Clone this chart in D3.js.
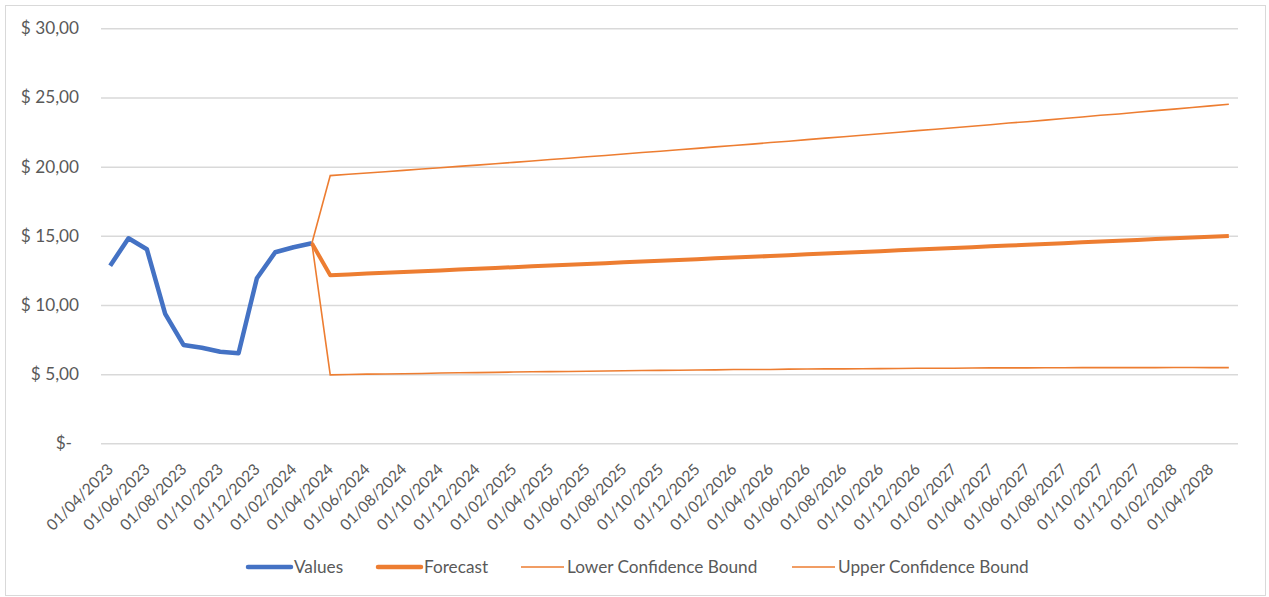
<!DOCTYPE html>
<html>
<head>
<meta charset="utf-8">
<script src="https://cdn.jsdelivr.net/npm/d3@7"></script>
<style>
  body { margin: 0; background: #fff; }
  svg { display: block; font-family: Lato, "Open Sans", sans-serif; }
</style>
</head>
<body>
<svg id="chart" width="1269" height="597"></svg>
<script>
// monthly data, 01/04/2023 .. 01/05/2028
const firstMonth = new Date(2023, 3, 1)
const monthCount = 62

// actuals Apr 2023 .. Mar 2024
const values = [12.84, 14.82, 14.03, 9.35, 7.11, 6.91, 6.62, 6.51, 11.93, 13.81, 14.17, 14.46]

// forecast series start on the last actual (Mar 2024) and run to May 2028
const forecast = [14.46,
  12.15, 12.21, 12.27, 12.32, 12.38, 12.44, 12.50, 12.56, 12.61, 12.67,
  12.73, 12.79, 12.85, 12.90, 12.96, 13.02, 13.08, 13.14, 13.19, 13.25,
  13.31, 13.37, 13.43, 13.48, 13.54, 13.60, 13.66, 13.72, 13.77, 13.83,
  13.89, 13.95, 14.01, 14.06, 14.12, 14.18, 14.24, 14.30, 14.35, 14.41,
  14.47, 14.53, 14.59, 14.64, 14.70, 14.76, 14.82, 14.88, 14.93, 14.99]
const lowerBound = [14.46,
  4.95, 4.97, 5.00, 5.01, 5.03, 5.05, 5.08, 5.10, 5.11, 5.13,
  5.15, 5.17, 5.18, 5.19, 5.21, 5.23, 5.25, 5.26, 5.27, 5.28,
  5.30, 5.31, 5.33, 5.33, 5.34, 5.36, 5.37, 5.38, 5.38, 5.39,
  5.40, 5.41, 5.42, 5.42, 5.43, 5.44, 5.45, 5.45, 5.45, 5.46,
  5.46, 5.47, 5.47, 5.47, 5.47, 5.47, 5.48, 5.48, 5.47, 5.47]
const upperBound = [14.46,
  19.35, 19.45, 19.54, 19.63, 19.73, 19.83, 19.92, 20.02, 20.11, 20.21,
  20.31, 20.41, 20.52, 20.61, 20.71, 20.81, 20.91, 21.02, 21.11, 21.22,
  21.32, 21.43, 21.53, 21.63, 21.74, 21.84, 21.95, 22.06, 22.16, 22.27,
  22.38, 22.49, 22.60, 22.70, 22.81, 22.92, 23.03, 23.15, 23.25, 23.36,
  23.48, 23.59, 23.71, 23.81, 23.93, 24.05, 24.16, 24.28, 24.39, 24.51]

const yTicks = [0, 5, 10, 15, 20, 25, 30]
const xTickLabels = [
  "01/04/2023", "01/06/2023", "01/08/2023", "01/10/2023", "01/12/2023",
  "01/02/2024", "01/04/2024", "01/06/2024", "01/08/2024", "01/10/2024",
  "01/12/2024", "01/02/2025", "01/04/2025", "01/06/2025", "01/08/2025",
  "01/10/2025", "01/12/2025", "01/02/2026", "01/04/2026", "01/06/2026",
  "01/08/2026", "01/10/2026", "01/12/2026", "01/02/2027", "01/04/2027",
  "01/06/2027", "01/08/2027", "01/10/2027", "01/12/2027", "01/02/2028",
  "01/04/2028"]

const seriesNames = ["Values", "Forecast", "Lower Confidence Bound", "Upper Confidence Bound"]

const blue = "#4472c4"
const orange = "#ed7d31"
const textColor = "#595959"
const fontSize = 17.2

const months = d3.timeMonth.range(firstMonth, d3.timeMonth.offset(firstMonth, monthCount))
const fmt = d3.timeFormat("%d/%m/%Y")

const svg = d3.select("#chart")

// chart border
svg.append("rect")
  .attr("x", 5.5).attr("y", 5.5)
  .attr("width", 1260).attr("height", 590)
  .attr("fill", "#fff").attr("stroke", "#d9d9d9").attr("stroke-width", 1)

const plotLeft = 101, plotRight = 1238, plotTop = 28.3, plotBottom = 443.3

const x = d3.scaleBand()
  .domain(months.map(fmt))
  .range([plotLeft, plotRight])
const xc = key => x(key) + x.bandwidth() / 2

const y = d3.scaleLinear().domain([0, 30]).range([plotBottom, plotTop])

// gridlines + y labels
const yAxis = d3.axisLeft(y)
  .tickValues(yTicks)
  .tickSize(-(plotRight - plotLeft))
  .tickPadding(22)
  .tickFormat(d => d === 0 ? "$-" : "$ " + d3.format(".2f")(d).replace(".", ","))

svg.append("g")
  .attr("transform", `translate(${plotLeft},0)`)
  .call(yAxis)
  .call(g => g.select(".domain").remove())
  .call(g => g.selectAll(".tick line").attr("stroke", "#d9d9d9").attr("stroke-width", 1.5))
  .call(g => g.selectAll(".tick text")
    .attr("fill", textColor)
    .attr("font-size", fontSize)
    .attr("font-family", "Lato, sans-serif")
    .attr("dx", d => d === 0 ? -7 : 0))

// x labels, every second month
svg.append("g")
  .selectAll("text")
  .data(xTickLabels)
  .join("text")
  .attr("transform", d => `translate(${xc(d) + 4},${plotBottom + 27}) rotate(-45)`)
  .attr("text-anchor", "end")
  .attr("fill", textColor)
  .attr("font-size", 15.6)
  .text(d => d)

const line = d3.line()
  .x(d => xc(d[0]))
  .y(d => y(d[1]))

const offset = values.length - 1
const pair = arr => arr.map((v, i) => [fmt(months[i + offset]), v])

svg.append("path")
  .datum(values.map((v, i) => [fmt(months[i]), v]))
  .attr("d", line)
  .attr("fill", "none").attr("stroke", blue)
  .attr("stroke-width", 4.5).attr("stroke-linejoin", "round")

svg.append("path")
  .datum(pair(lowerBound))
  .attr("d", line)
  .attr("fill", "none").attr("stroke", orange).attr("stroke-width", 1.6)

svg.append("path")
  .datum(pair(upperBound))
  .attr("d", line)
  .attr("fill", "none").attr("stroke", orange).attr("stroke-width", 1.6)

svg.append("path")
  .datum(pair(forecast))
  .attr("d", line)
  .attr("fill", "none").attr("stroke", orange)
  .attr("stroke-width", 4).attr("stroke-linejoin", "round")

// legend
const legendX = [248, 378, 521, 792]
const legend = svg.append("g")
  .selectAll("g")
  .data(seriesNames)
  .join("g")
  .attr("transform", (d, i) => `translate(${legendX[i]},567)`)

legend.append("line")
  .attr("x1", 0).attr("x2", 43)
  .attr("stroke", (d, i) => i === 0 ? blue : orange)
  .attr("stroke-width", (d, i) => i < 2 ? 4.5 : 1.6)
  .attr("stroke-linecap", (d, i) => i < 2 ? "round" : "butt")

legend.append("text")
  .attr("x", 46)
  .attr("dy", "0.35em")
  .attr("fill", textColor)
  .attr("font-size", fontSize)
  .text(d => d)
</script>
</body>
</html>
